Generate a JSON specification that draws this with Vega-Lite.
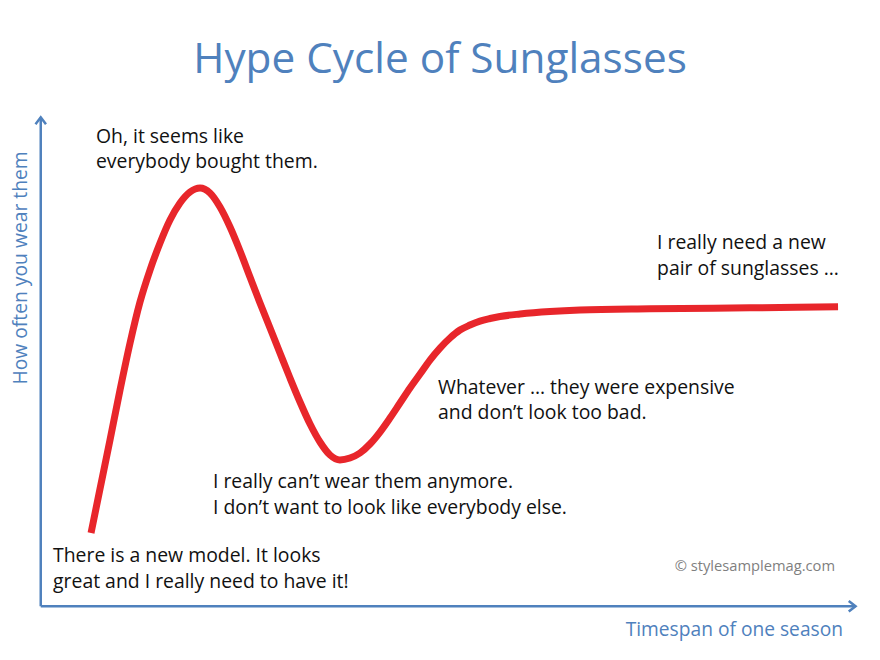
{
  "$schema": "https://vega.github.io/schema/vega-lite/v6.json",
  "description": "Hype cycle of sunglasses, drawn as a sketch curve with notes.",
  "width": 880,
  "height": 660,
  "autosize": {"type": "fit", "contains": "padding"},
  "padding": 0,
  "background": "white",
  "config": {
    "view": {"stroke": null},
    "text": {"font": "Open Sans"}
  },
  "datasets": {
    "curve": [
      {"t": 6.17, "w": 14.97},
      {"t": 7.27, "w": 23.97},
      {"t": 8.5, "w": 33.99},
      {"t": 9.73, "w": 44.22},
      {"t": 10.96, "w": 53.84},
      {"t": 12.18, "w": 62.22},
      {"t": 13.41, "w": 68.77},
      {"t": 14.64, "w": 74.29},
      {"t": 15.86, "w": 78.99},
      {"t": 17.09, "w": 82.47},
      {"t": 18.32, "w": 84.72},
      {"t": 19.55, "w": 85.54},
      {"t": 20.77, "w": 84.52},
      {"t": 22.0, "w": 81.65},
      {"t": 23.23, "w": 77.56},
      {"t": 24.46, "w": 72.65},
      {"t": 25.68, "w": 67.34},
      {"t": 26.91, "w": 62.02},
      {"t": 28.14, "w": 56.91},
      {"t": 29.36, "w": 51.79},
      {"t": 30.59, "w": 46.68},
      {"t": 31.82, "w": 41.77},
      {"t": 33.05, "w": 37.27},
      {"t": 34.27, "w": 33.59},
      {"t": 35.5, "w": 30.93},
      {"t": 36.72, "w": 29.91},
      {"t": 37.95, "w": 30.31},
      {"t": 39.18, "w": 31.34},
      {"t": 40.41, "w": 33.18},
      {"t": 41.64, "w": 35.63},
      {"t": 42.86, "w": 38.49},
      {"t": 44.09, "w": 41.56},
      {"t": 45.32, "w": 44.63},
      {"t": 46.55, "w": 47.49},
      {"t": 47.77, "w": 50.36},
      {"t": 49.0, "w": 52.81},
      {"t": 50.23, "w": 54.86},
      {"t": 51.45, "w": 56.49},
      {"t": 52.68, "w": 57.51},
      {"t": 53.91, "w": 58.33},
      {"t": 55.14, "w": 58.85},
      {"t": 56.36, "w": 59.26},
      {"t": 58.82, "w": 59.77},
      {"t": 62.5, "w": 60.28},
      {"t": 66.18, "w": 60.58},
      {"t": 74.77, "w": 60.83},
      {"t": 87.04, "w": 61.04},
      {"t": 97.85, "w": 61.24}
    ],
    "axes": [
      {"t": 0, "w": 0, "t2": 0, "w2": 100},
      {"t": 0, "w": 0, "t2": 100, "w2": 0}
    ],
    "arrows": [
      {"t": 0, "w": 100, "dir": "up"},
      {"t": 100, "w": 0, "dir": "right"}
    ],
    "notes": [
      {"t": 6.78, "w": 94.7, "label": "Oh, it seems like"},
      {"t": 6.78, "w": 89.6, "label": "everybody bought them."},
      {"t": 75.64, "w": 73.1, "label": "I really need a new"},
      {"t": 75.64, "w": 67.8, "label": "pair of sunglasses …"},
      {"t": 48.76, "w": 43.4, "label": "Whatever … they were expensive"},
      {"t": 48.76, "w": 38.3, "label": "and don’t look too bad."},
      {"t": 21.14, "w": 24.2, "label": "I really can’t wear them anymore."},
      {"t": 21.14, "w": 18.9, "label": "I don’t want to look like everybody else."},
      {"t": 1.51, "w": 9.04, "label": "There is a new model. It looks"},
      {"t": 1.51, "w": 3.72, "label": "great and I really need to have it!"}
    ],
    "title": [{"t": 49.0, "w": 109.1, "label": "Hype Cycle of Sunglasses"}],
    "xtitle": [{"t": 98.46, "w": -6.1, "label": "Timespan of one season"}],
    "ytitle": [{"t": -1.72, "w": 69.2, "label": "How often you wear them"}],
    "credit": [{"t": 97.48, "w": 7.2, "label": "© stylesamplemag.com"}]
  },
  "encoding": {
    "x": {"field": "t", "type": "quantitative", "scale": {"domain": [-5, 103], "nice": false, "zero": false}, "axis": null},
    "y": {"field": "w", "type": "quantitative", "scale": {"domain": [-11, 124], "nice": false, "zero": false}, "axis": null}
  },
  "layer": [
    {
      "data": {"name": "axes"},
      "mark": {"type": "rule", "color": "#4F81BD", "strokeWidth": 2.5},
      "encoding": {
        "x2": {"field": "t2"},
        "y2": {"field": "w2"}
      }
    },
    {
      "data": {"name": "arrows"},
      "mark": {"type": "point", "filled": false, "color": "#4F81BD", "strokeWidth": 2.5, "opacity": 1, "size": 110},
      "encoding": {
        "shape": {
          "field": "dir",
          "type": "nominal",
          "scale": {"domain": ["up", "right"], "range": ["M-1,1.3L0,0L1,1.3", "M-1.3,-1L0,0L-1.3,1"]},
          "legend": null
        }
      }
    },
    {
      "data": {"name": "curve"},
      "mark": {"type": "line", "color": "#E8262B", "strokeWidth": 7, "interpolate": "monotone"},
      "encoding": {"order": {"field": "t"}}
    },
    {
      "data": {"name": "notes"},
      "mark": {"type": "text", "align": "left", "baseline": "alphabetic", "fontSize": 19.4, "color": "#111111"},
      "encoding": {"text": {"field": "label"}}
    },
    {
      "data": {"name": "title"},
      "mark": {"type": "text", "align": "center", "baseline": "alphabetic", "fontSize": 42.3, "color": "#4F81BD"},
      "encoding": {"text": {"field": "label"}}
    },
    {
      "data": {"name": "xtitle"},
      "mark": {"type": "text", "align": "right", "baseline": "alphabetic", "fontSize": 19.2, "color": "#4F81BD"},
      "encoding": {"text": {"field": "label"}}
    },
    {
      "data": {"name": "ytitle"},
      "mark": {"type": "text", "align": "center", "baseline": "alphabetic", "angle": 270, "fontSize": 19.3, "color": "#4F81BD"},
      "encoding": {"text": {"field": "label"}}
    },
    {
      "data": {"name": "credit"},
      "mark": {"type": "text", "align": "right", "baseline": "alphabetic", "fontSize": 14.7, "color": "#7F7F7F"},
      "encoding": {"text": {"field": "label"}}
    }
  ]
}
